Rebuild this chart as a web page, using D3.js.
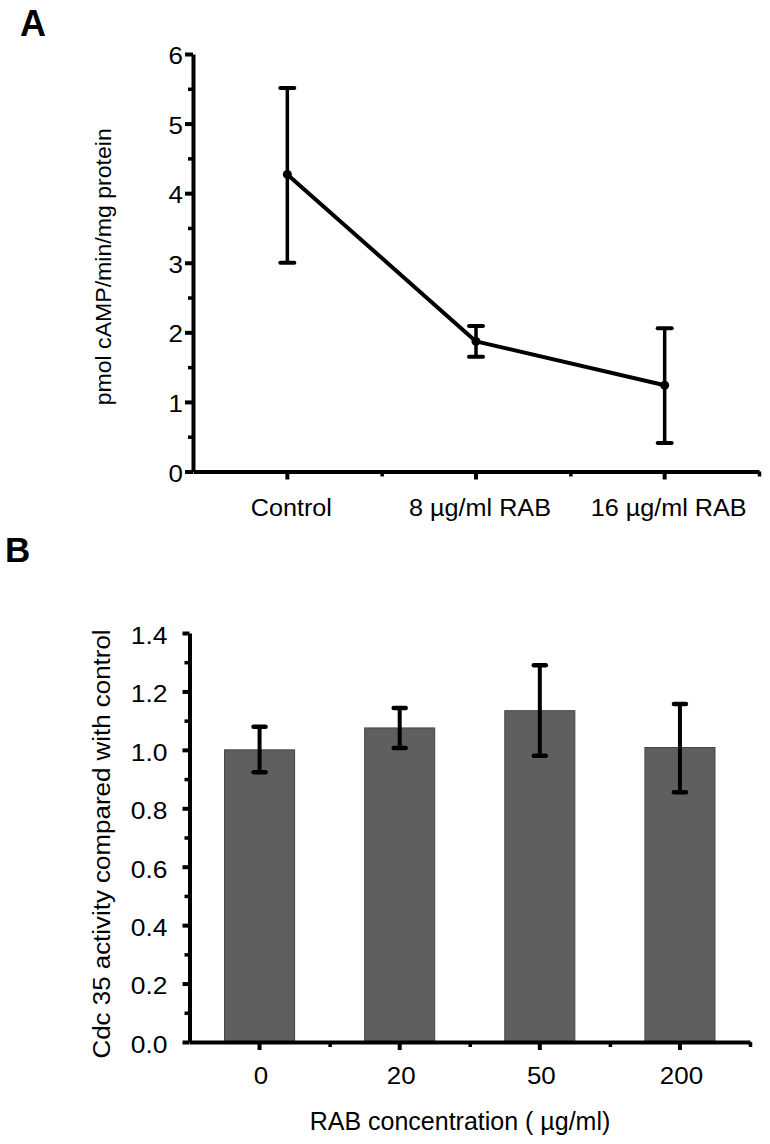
<!DOCTYPE html>
<html><head><meta charset="utf-8">
<script src="https://cdn.jsdelivr.net/npm/d3@7"></script>
<style>
body{margin:0;background:#fff}
svg{display:block}
text{font-family:"Liberation Sans",Arial,Helvetica,sans-serif;fill:#000}
</style>
</head><body>
<svg id="c" width="770" height="1144"></svg>
<script>
// ---------- Panel A data ----------
const catsA = ["Control", "8 µg/ml RAB", "16 µg/ml RAB"];
const meanA = [4.27, 1.87, 1.24];
const lowA  = [3.00, 1.65, 0.41];
const highA = [5.51, 2.09, 2.06];
const yTicksA = [0, 1, 2, 3, 4, 5, 6];
const yMinorA = [0.5, 1.5, 2.5, 3.5, 4.5, 5.5];
const yTitleA = "pmol cAMP/min/mg protein";

// ---------- Panel B data ----------
const catsB = ["0", "20", "50", "200"];
const meanB = [1.00, 1.075, 1.134, 1.008];
const lowB  = [0.923, 1.006, 0.98, 0.855];
const highB = [1.079, 1.143, 1.29, 1.157];
const yTicksB = [0, 0.2, 0.4, 0.6, 0.8, 1.0, 1.2, 1.4];
const yMinorB = [0.1, 0.3, 0.5, 0.7, 0.9, 1.1, 1.3];
const yTitleB = "Cdc 35 activity compared with control";
const xTitleB = "RAB concentration ( µg/ml)";

const svg = d3.select("#c");

function styleAxis(g, w) {
  g.attr("font-size", null).attr("font-family", null);
  g.select(".domain").attr("stroke", "#000").attr("stroke-width", w);
  g.selectAll(".tick line").attr("stroke", "#000").attr("stroke-width", w);
}

// ================= PANEL A =================
const AX0 = 193, AX1 = 759, AY0 = 471.5, AY1 = 54;
const xA = d3.scaleBand().domain(catsA).range([AX0, AX1]).padding(0);
const xAb = d3.scaleLinear().domain([0, catsA.length]).range([AX0, AX1]);
const yA = d3.scaleLinear().domain([0, 6]).range([AY0, AY1]);
const cxA = c => xA(c) + xA.bandwidth() / 2;

const gA = svg.append("g");

gA.append("g").attr("transform", `translate(${AX0},0)`)
  .call(d3.axisLeft(yA).tickValues(yMinorA).tickSize(5).tickFormat(""))
  .call(g => { styleAxis(g, 3.5); g.select(".domain").remove(); });

gA.append("g").attr("transform", `translate(${AX0},0)`)
  .call(d3.axisLeft(yA).tickValues(yTicksA).tickSize(8).tickSizeOuter(0).tickFormat(d3.format("d")))
  .call(g => {
    styleAxis(g, 4);
    g.selectAll(".tick text").attr("x", null).attr("dy", "0.36em")
      .attr("font-size", 24).attr("text-anchor", "end")
      .attr("transform", "translate(-10,1) scale(1.08,1)");
  });

gA.append("g").attr("transform", `translate(0,${AY0})`)
  .call(d3.axisBottom(xAb).tickValues(d3.range(1, catsA.length + 1)).tickSize(5).tickFormat(""))
  .call(g => { styleAxis(g, 3.5); g.select(".domain").remove(); });

gA.append("g").attr("transform", `translate(0,${AY0})`)
  .call(d3.axisBottom(xA).tickSize(8).tickSizeOuter(0))
  .call(g => {
    styleAxis(g, 4);
    g.selectAll(".tick text").attr("y", null).attr("dy", null)
      .attr("font-size", 24)
      .attr("transform", "translate(4,44) scale(1.05,1)");
  });

gA.append("path")
  .datum(meanA)
  .attr("fill", "none").attr("stroke", "#000").attr("stroke-width", 4)
  .attr("stroke-linejoin", "round")
  .attr("d", d3.line().x((d, i) => cxA(catsA[i])).y(d => yA(d)));

const ebA = gA.append("g").attr("stroke", "#000").attr("stroke-width", 4);
catsA.forEach((c, i) => {
  const x = cxA(c);
  ebA.append("line").attr("x1", x).attr("x2", x).attr("y1", yA(lowA[i])).attr("y2", yA(highA[i])).attr("stroke-width", 3.5);
  [lowA[i], highA[i]].forEach(v => {
    ebA.append("line").attr("x1", x - 7).attr("x2", x + 7).attr("y1", yA(v)).attr("y2", yA(v))
      .attr("stroke-linecap", "round");
  });
});
gA.selectAll("circle.pt").data(meanA).join("circle")
  .attr("class", "pt").attr("cx", (d, i) => cxA(catsA[i])).attr("cy", d => yA(d))
  .attr("r", 4.5).attr("fill", "#000");

gA.append("text")
  .attr("transform", `translate(111,${(AY0 + AY1) / 2 + 4}) rotate(-90) scale(1.05,1)`)
  .attr("text-anchor", "middle").attr("font-size", 22).text(yTitleA);

svg.append("text").attr("x", 20).attr("y", 36).attr("font-size", 36).attr("font-weight", "bold").text("A");

// ================= PANEL B =================
const BX0 = 189.5, BX1 = 750, BY0 = 1042, BY1 = 633;
const xB = d3.scaleBand().domain(catsB).range([BX0, BX1]).paddingInner(0.5).paddingOuter(0.25);
const xBb = d3.scaleLinear().domain([0, catsB.length]).range([BX0, BX1]);
const yB = d3.scaleLinear().domain([0, 1.4]).range([BY0, BY1]);
const cxB = c => xB(c) + xB.bandwidth() / 2;

const gB = svg.append("g");

gB.selectAll("rect.bar").data(meanB).join("rect")
  .attr("class", "bar")
  .attr("x", (d, i) => xB(catsB[i])).attr("width", xB.bandwidth())
  .attr("y", d => yB(d)).attr("height", d => BY0 - yB(d))
  .attr("fill", "#5f5f5f").attr("stroke", "#444").attr("stroke-width", 1);

gB.append("g").attr("transform", `translate(${BX0},0)`)
  .call(d3.axisLeft(yB).tickValues(yMinorB).tickSize(5).tickFormat(""))
  .call(g => { styleAxis(g, 3.5); g.select(".domain").remove(); });

gB.append("g").attr("transform", `translate(${BX0},0)`)
  .call(d3.axisLeft(yB).tickValues(yTicksB).tickSize(7).tickSizeOuter(0).tickFormat(d3.format(".1f")))
  .call(g => {
    styleAxis(g, 4);
    g.selectAll(".tick text").attr("x", null).attr("dy", "0.36em")
      .attr("font-size", 23).attr("text-anchor", "end")
      .attr("transform", "translate(-22,2) scale(1.15,1)");
  });

gB.append("g").attr("transform", `translate(0,${BY0})`)
  .call(d3.axisBottom(xBb).tickValues(d3.range(1, catsB.length + 1)).tickSize(5).tickFormat(""))
  .call(g => { styleAxis(g, 3.5); g.select(".domain").remove(); });

gB.append("g").attr("transform", `translate(0,${BY0})`)
  .call(d3.axisBottom(xB).tickSize(8).tickSizeOuter(0))
  .call(g => {
    styleAxis(g, 4);
    g.selectAll(".tick text").attr("y", null).attr("dy", null)
      .attr("font-size", 24)
      .attr("transform", "translate(1.5,42) scale(1.08,1)");
  });

const ebB = gB.append("g").attr("stroke", "#000");
catsB.forEach((c, i) => {
  const x = cxB(c);
  ebB.append("line").attr("x1", x).attr("x2", x).attr("y1", yB(lowB[i])).attr("y2", yB(highB[i])).attr("stroke-width", 4);
  [lowB[i], highB[i]].forEach(v => {
    ebB.append("line").attr("x1", x - 6).attr("x2", x + 6).attr("y1", yB(v)).attr("y2", yB(v))
      .attr("stroke-width", 4.5).attr("stroke-linecap", "round");
  });
});

gB.append("text")
  .attr("transform", `translate(110,844) rotate(-90) scale(1.08,1)`)
  .attr("text-anchor", "middle").attr("font-size", 24).text(yTitleB);
gB.append("text").attr("x", 460).attr("y", 1130).attr("text-anchor", "middle")
  .attr("font-size", 25).text(xTitleB);

svg.append("text").attr("x", 5).attr("y", 562).attr("font-size", 35).attr("font-weight", "bold").text("B");
</script>
</body></html>
